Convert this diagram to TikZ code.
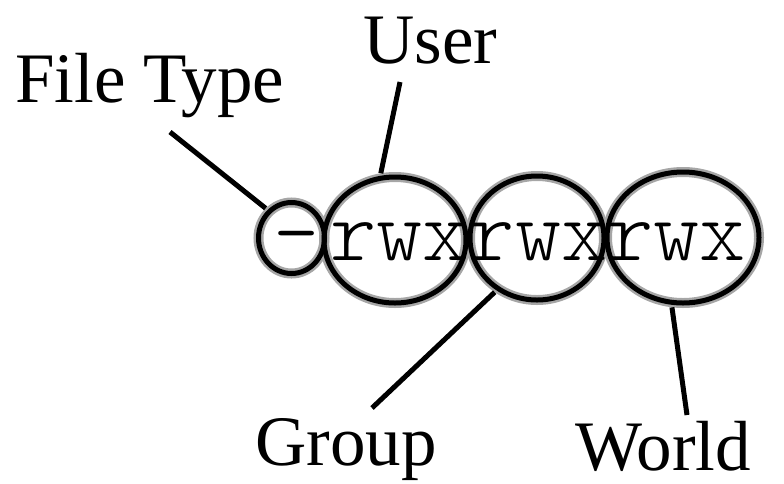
\documentclass[tikz,border=0pt]{standalone}
\usepackage{fontspec}
\setmainfont{Liberation Serif}
\newfontfamily\lightmono{Latin Modern Mono Light}
\usetikzlibrary{shapes.geometric}
\begin{document}
\begin{tikzpicture}[x=1pt,y=-1pt,
  halo/.style={draw=black!35,line width=10pt},
  ring/.style={draw=black,line width=5pt},
  oval/.style={ellipse,inner sep=0pt,halo},
  lbl/.style={inner sep=0pt,anchor=base west,font=\fontsize{71}{71}\selectfont},
  mono/.style={inner sep=0pt,font=\lightmono\fontsize{88}{88}\selectfont},
  lead/.style={draw=black,line width=5pt}]
\useasboundingbox (0,0) rectangle (784,483);
% ellipse nodes (halo pass)
\node[oval,minimum width=66pt,minimum height=71pt] (ft) at (291.5,238) {};
\node[oval,minimum width=142pt,minimum height=126pt] (us) at (395,240) {};
\node[oval,minimum width=134pt,minimum height=124pt] (gr) at (537,238) {};
\node[oval,minimum width=152pt,minimum height=131pt] (wo) at (683,237.5) {};
% permission string
\node[mono,anchor=base] (dash) at (297,260) {-};
\node[mono,anchor=base west] (perm) at (330,260) {rwxrwxrwx};
% black rings
\draw[ring] (ft.center) ellipse [x radius=33pt,y radius=35.5pt];
\draw[ring] (us.center) ellipse [x radius=71pt,y radius=63pt];
\draw[ring] (gr.center) ellipse [x radius=67pt,y radius=62pt];
\draw[ring] (wo.center) ellipse [x radius=76pt,y radius=65.5pt];
% labels
\node[lbl] (lft) at (15,102) {File Type};
\node[lbl] (lus) at (363,63) {User};
\node[lbl] (lgr) at (255,465) {Group};
\node[lbl] (lwo) at (575,470) {World};
% leader ends
\coordinate (eft) at (170,132);
\coordinate (eus) at (400,82);
\coordinate (egr) at (372,408);
\coordinate (ewo) at (687,415);
\draw[lead] (eft) -- (ft.131);
\draw[lead] (eus) -- (us.102);
\draw[lead] (egr) -- (gr.232);
\draw[lead] (ewo) -- (wo.261);
\end{tikzpicture}
\end{document}
